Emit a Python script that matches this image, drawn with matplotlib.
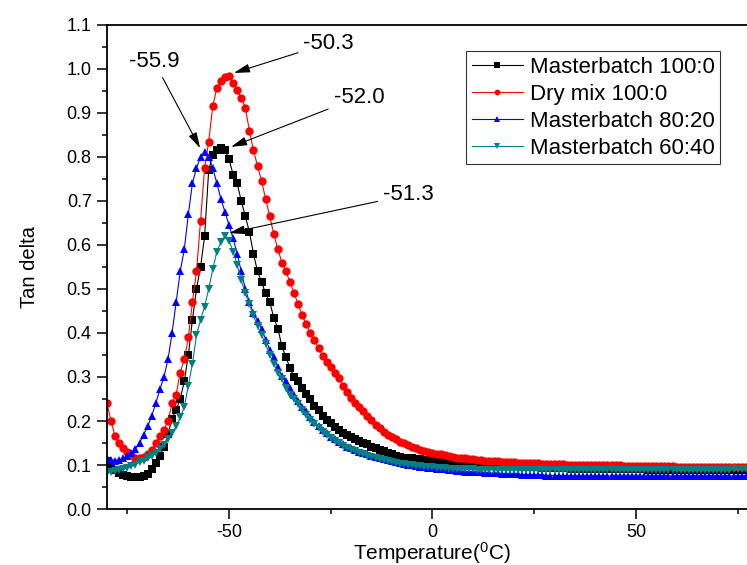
import numpy as np
import matplotlib
matplotlib.use("Agg")
import matplotlib.pyplot as plt
from matplotlib.ticker import MultipleLocator, FormatStrFormatter

plt.rcParams['font.family'] = ['Liberation Sans', 'DejaVu Sans']
plt.rcParams['mathtext.fontset'] = 'custom'
plt.rcParams['mathtext.rm'] = 'Liberation Sans'
plt.rcParams['mathtext.it'] = 'Liberation Sans'
plt.rcParams['axes.unicode_minus'] = False

temperature = np.arange(-80, 81)

mb_100_0 = [
    0.110, 0.095, 0.088, 0.082, 0.078, 0.075, 0.073, 0.072, 0.073, 0.075,
    0.080, 0.090, 0.105, 0.120, 0.140, 0.170, 0.205, 0.225, 0.250, 0.290,
    0.350, 0.430, 0.500, 0.550, 0.620, 0.770, 0.805, 0.815, 0.820, 0.815,
    0.795, 0.760, 0.740, 0.700, 0.665, 0.630, 0.580, 0.540, 0.515, 0.490,
    0.470, 0.435, 0.410, 0.370, 0.345, 0.320, 0.300, 0.290, 0.275, 0.262,
    0.250, 0.235, 0.225, 0.212, 0.202, 0.195, 0.187, 0.180, 0.173, 0.168,
    0.163, 0.159, 0.155, 0.151, 0.147, 0.142, 0.138, 0.134, 0.131, 0.128,
    0.124, 0.121, 0.118, 0.117, 0.116, 0.115, 0.114, 0.113, 0.112, 0.111,
    0.110, 0.109, 0.108, 0.107, 0.106, 0.106, 0.105, 0.104, 0.104, 0.103,
    0.103, 0.102, 0.101, 0.101, 0.100, 0.100, 0.099, 0.099, 0.098, 0.098,
    0.097, 0.097, 0.096, 0.096, 0.095, 0.095, 0.095, 0.094, 0.094, 0.094,
    0.093, 0.093, 0.093, 0.093, 0.092, 0.092, 0.092, 0.092, 0.092, 0.091,
    0.091, 0.091, 0.091, 0.091, 0.091, 0.090, 0.090, 0.090, 0.090, 0.090,
    0.090, 0.090, 0.090, 0.089, 0.089, 0.089, 0.089, 0.089, 0.089, 0.089,
    0.089, 0.089, 0.089, 0.089, 0.089, 0.089, 0.089, 0.089, 0.089, 0.089,
    0.089, 0.089, 0.089, 0.089, 0.089, 0.089, 0.089, 0.089, 0.089, 0.089, 0.089,
]

dry_100_0 = [
    0.240, 0.200, 0.165, 0.150, 0.138, 0.130, 0.122, 0.117, 0.115, 0.118,
    0.125, 0.135, 0.150, 0.165, 0.180, 0.200, 0.240, 0.260, 0.310, 0.340,
    0.390, 0.470, 0.540, 0.655, 0.775, 0.835, 0.915, 0.957, 0.972, 0.982,
    0.984, 0.968, 0.952, 0.935, 0.912, 0.860, 0.815, 0.780, 0.745, 0.705,
    0.665, 0.625, 0.590, 0.560, 0.540, 0.515, 0.490, 0.465, 0.440, 0.420,
    0.400, 0.383, 0.365, 0.348, 0.335, 0.322, 0.310, 0.297, 0.280, 0.265,
    0.253, 0.242, 0.232, 0.222, 0.212, 0.202, 0.192, 0.183, 0.175, 0.168,
    0.163, 0.158, 0.153, 0.149, 0.145, 0.141, 0.138, 0.135, 0.132, 0.130,
    0.128, 0.126, 0.124, 0.122, 0.120, 0.119, 0.117, 0.116, 0.115, 0.114,
    0.113, 0.112, 0.111, 0.110, 0.109, 0.108, 0.108, 0.107, 0.107, 0.106,
    0.106, 0.105, 0.105, 0.105, 0.104, 0.104, 0.104, 0.103, 0.103, 0.103,
    0.102, 0.102, 0.102, 0.101, 0.101, 0.101, 0.101, 0.100, 0.100, 0.100,
    0.100, 0.100, 0.099, 0.099, 0.099, 0.099, 0.099, 0.098, 0.098, 0.098,
    0.098, 0.098, 0.098, 0.097, 0.097, 0.097, 0.097, 0.097, 0.097, 0.097,
    0.096, 0.096, 0.096, 0.096, 0.096, 0.096, 0.096, 0.096, 0.096, 0.096,
    0.096, 0.096, 0.095, 0.095, 0.095, 0.095, 0.095, 0.095, 0.095, 0.095, 0.095,
]

mb_80_20 = [
    0.115, 0.112, 0.110, 0.112, 0.115, 0.120, 0.127, 0.137, 0.150, 0.168,
    0.188, 0.212, 0.240, 0.272, 0.300, 0.340, 0.400, 0.470, 0.540, 0.590,
    0.670, 0.740, 0.775, 0.800, 0.812, 0.800, 0.775, 0.740, 0.705, 0.675,
    0.645, 0.615, 0.580, 0.540, 0.500, 0.470, 0.445, 0.428, 0.410, 0.385,
    0.362, 0.345, 0.322, 0.302, 0.290, 0.275, 0.258, 0.245, 0.232, 0.222,
    0.210, 0.198, 0.188, 0.180, 0.172, 0.164, 0.158, 0.152, 0.147, 0.142,
    0.138, 0.134, 0.130, 0.127, 0.124, 0.121, 0.118, 0.115, 0.113, 0.111,
    0.108, 0.106, 0.104, 0.102, 0.100, 0.099, 0.097, 0.096, 0.095, 0.094,
    0.093, 0.092, 0.091, 0.090, 0.089, 0.088, 0.087, 0.086, 0.085, 0.085,
    0.084, 0.083, 0.083, 0.082, 0.082, 0.081, 0.081, 0.080, 0.080, 0.079,
    0.079, 0.079, 0.078, 0.078, 0.078, 0.077, 0.077, 0.077, 0.076, 0.076,
    0.076, 0.076, 0.076, 0.076, 0.075, 0.075, 0.075, 0.075, 0.075, 0.075,
    0.075, 0.075, 0.075, 0.075, 0.075, 0.075, 0.075, 0.075, 0.075, 0.075,
    0.075, 0.075, 0.075, 0.075, 0.075, 0.075, 0.075, 0.075, 0.075, 0.075,
    0.075, 0.075, 0.075, 0.075, 0.075, 0.075, 0.075, 0.075, 0.075, 0.075,
    0.075, 0.075, 0.075, 0.075, 0.075, 0.075, 0.075, 0.075, 0.075, 0.075, 0.075,
]

mb_60_40 = [
    0.082, 0.084, 0.086, 0.088, 0.090, 0.093, 0.097, 0.101, 0.106, 0.110,
    0.115, 0.120, 0.127, 0.136, 0.146, 0.158, 0.172, 0.188, 0.208, 0.232,
    0.280, 0.330, 0.395, 0.430, 0.460, 0.500, 0.545, 0.585, 0.607, 0.620,
    0.610, 0.585, 0.555, 0.520, 0.490, 0.465, 0.440, 0.415, 0.395, 0.375,
    0.350, 0.330, 0.310, 0.295, 0.275, 0.260, 0.250, 0.238, 0.225, 0.213,
    0.203, 0.193, 0.184, 0.176, 0.168, 0.161, 0.155, 0.149, 0.144, 0.139,
    0.135, 0.131, 0.127, 0.124, 0.121, 0.118, 0.115, 0.113, 0.111, 0.109,
    0.107, 0.105, 0.103, 0.102, 0.100, 0.099, 0.098, 0.097, 0.096, 0.095,
    0.095, 0.094, 0.093, 0.093, 0.092, 0.092, 0.091, 0.091, 0.090, 0.090,
    0.090, 0.089, 0.089, 0.089, 0.089, 0.089, 0.089, 0.089, 0.089, 0.089,
    0.089, 0.089, 0.089, 0.089, 0.089, 0.089, 0.089, 0.089, 0.089, 0.089,
    0.089, 0.089, 0.089, 0.089, 0.089, 0.089, 0.089, 0.089, 0.089, 0.089,
    0.089, 0.089, 0.089, 0.089, 0.089, 0.089, 0.089, 0.089, 0.089, 0.089,
    0.089, 0.089, 0.089, 0.089, 0.089, 0.089, 0.089, 0.089, 0.089, 0.089,
    0.089, 0.089, 0.089, 0.089, 0.089, 0.089, 0.089, 0.089, 0.089, 0.089,
    0.089, 0.089, 0.089, 0.089, 0.090, 0.090, 0.090, 0.090, 0.090, 0.090, 0.090,
]

series_labels = ["Masterbatch 100:0", "Dry mix 100:0", "Masterbatch 80:20", "Masterbatch 60:40"]
peak_labels = ["-55.9", "-50.3", "-52.0", "-51.3"]
peak_points = [(-57.1, 0.820), (-48.8, 0.991), (-49.5, 0.823), (-50.0, 0.627)]
peak_text_pos = [(-68.4, 1.016), (-25.5, 1.059), (-18.1, 0.936), (-5.9, 0.714)]

fig = plt.figure(figsize=(7.47, 5.65), dpi=100)
ax = fig.add_axes([0.1432, 0.0991, 0.8715, 0.8567])

styles = [
    dict(color='black', marker='s', ms=5.4),
    dict(color='#ff0000', marker='o', ms=6.0),
    dict(color='#0000ff', marker='^', ms=6.4),
    dict(color='#008080', marker='v', ms=6.4),
]
for y, lab, st in zip([mb_100_0, dry_100_0, mb_80_20, mb_60_40], series_labels, styles):
    ax.plot(temperature, y, color=st['color'], marker=st['marker'], ms=st['ms'],
            lw=0.8, mew=0, label=lab)

for lab, pt, tp in zip(peak_labels, peak_points, peak_text_pos):
    ax.annotate(lab, xy=pt, xytext=tp, ha='center', va='center', fontsize=16,
                arrowprops=dict(arrowstyle='-|>,head_length=0.8,head_width=0.22',
                                color='black', lw=0.8, mutation_scale=12,
                                shrinkA=2, shrinkB=0))

ax.set_xlim(-80, 80)
ax.set_ylim(0, 1.1)
ax.xaxis.set_major_locator(MultipleLocator(50))
ax.xaxis.set_minor_locator(MultipleLocator(25))
ax.yaxis.set_major_locator(MultipleLocator(0.1))
ax.yaxis.set_minor_locator(MultipleLocator(0.05))
ax.yaxis.set_major_formatter(FormatStrFormatter('%.1f'))
ax.tick_params(which='major', direction='out', length=7, width=1.1, labelsize=13, pad=4,
               top=False, right=False)
ax.tick_params(which='minor', direction='out', length=3.5, width=1.1, top=False, right=False)
for s in ax.spines.values():
    s.set_linewidth(1.3)

ax.set_xlabel('Temperature($^{0}$C)', fontsize=15, labelpad=-1)
ax.set_ylabel('Tan delta', fontsize=14.5, labelpad=20)

leg = ax.legend(loc='upper right', bbox_to_anchor=(0.9416, 0.946), borderaxespad=0,
                fontsize=16, frameon=True, fancybox=False, edgecolor='black',
                handlelength=2.3, handletextpad=0.3, labelspacing=0.27,
                borderpad=0.25, markerscale=0.7)
leg.get_frame().set_linewidth(0.8)

fig.savefig('out.png', dpi=100)
